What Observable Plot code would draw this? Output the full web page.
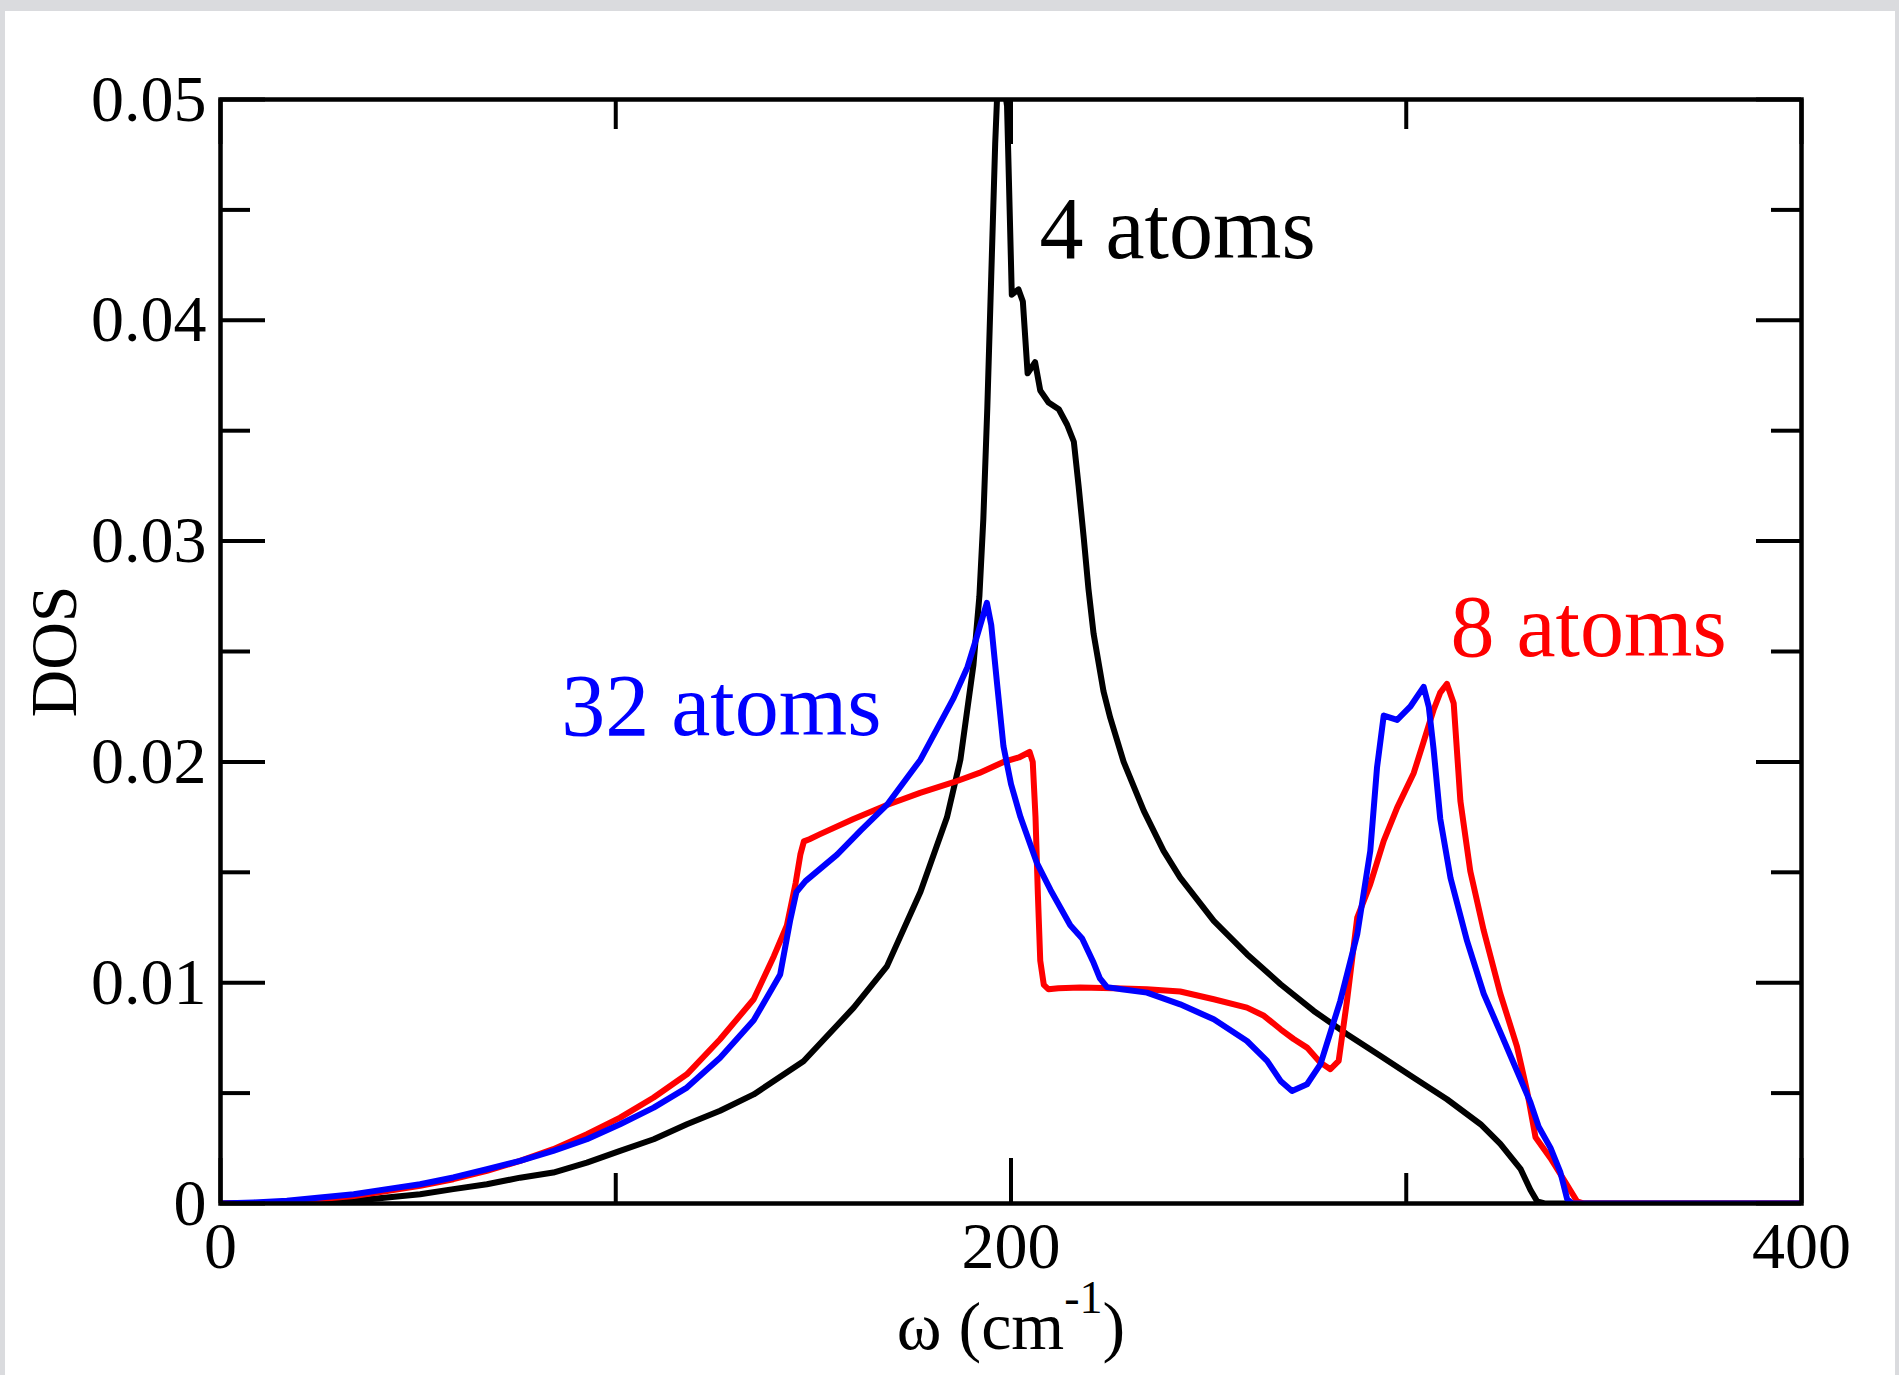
<!DOCTYPE html>
<html>
<head>
<meta charset="utf-8">
<script src="https://cdn.jsdelivr.net/npm/d3@7"></script>
<script src="https://cdn.jsdelivr.net/npm/@observablehq/plot@0.6"></script>
<style>
  html, body { margin: 0; padding: 0; width: 1899px; height: 1375px; overflow: hidden; background: #dadbde; }
  #panel { position: absolute; left: 5px; top: 11px; width: 1890px; height: 1364px; background: #ffffff; }
  #panel svg { display: block; }
</style>
</head>
<body>
<div id="panel"></div>
<script>
// ---------------- data ----------------
// 4 atoms (black)
const omega4 = [0, 25.2, 33.7, 42.1, 50.5, 58.9, 67.4, 75.8, 84.2, 92.7,
  101.1, 109.6, 118, 126.4, 134.9, 147.5, 160.2, 168.6, 177.1, 183.8,
  187.2, 190.5, 192, 193, 194, 195, 196, 196.8, 197.6, 199,
  200.2, 201.9, 203, 204.2, 206.1, 207.4, 209.5, 212.1, 214.2, 215.9,
  217.1, 218.4, 219.6, 220.9, 223.4, 225.1, 228.5, 233.6, 238.6, 242.8,
  251.3, 259.7, 268.2, 276.6, 285, 293.5, 301.9, 310.3, 318.8, 323.8,
  326.5, 328.9, 331.4, 333.1, 335, 400];
const dos4 = [0, 0.00005, 0.00012, 0.00027, 0.00042, 0.00065, 0.00087, 0.00117, 0.0014, 0.00185,
  0.00238, 0.00291, 0.00359, 0.0042, 0.00494, 0.00644, 0.00887, 0.01074, 0.01412, 0.01749,
  0.0201, 0.0244, 0.0275, 0.031, 0.036, 0.042, 0.048, 0.0515, 0.0515, 0.0497,
  0.04116, 0.0414, 0.04085, 0.0376, 0.0381, 0.03682, 0.03628, 0.03597, 0.03527, 0.0345,
  0.0325, 0.03015, 0.02783, 0.0258, 0.0232, 0.0220, 0.0200, 0.01778, 0.01597, 0.01476,
  0.0128, 0.01129, 0.00993, 0.00872, 0.00767, 0.00668, 0.0057, 0.00472, 0.00359, 0.0027,
  0.0021, 0.00157, 0.00062, 0.0001, 0, 0];

// 8 atoms (red)
const omega8 = [0, 8.4, 16.8, 25.2, 33.7, 42.1, 50.5, 58.9, 67.4, 75.8,
  84.2, 92.7, 101.1, 109.6, 118, 126.4, 134.9, 140, 143.3, 145.5,
  146.7, 147.6, 149, 151.7, 160, 168.6, 177, 185.5, 192, 198.1,
  202, 204.7, 205.5, 206.2, 206.8, 207.4, 208.3, 209.5, 212, 217.5,
  226, 234.4, 242.8, 251.3, 259.7, 264, 268.2, 271.5, 274.9, 278.3,
  280.8, 282.9, 285, 287.6, 290.9, 294.3, 297.7, 301.9, 304.4, 306.9,
  308.6, 310.3, 312, 313.7, 316.2, 319.6, 323.8, 328, 330.6, 332.7,
  336.5, 339.8, 343.2, 345, 400];
const dos8 = [0, 0, 0.00005, 0.0002, 0.00034, 0.00057, 0.0008, 0.0011, 0.00148, 0.00193,
  0.00246, 0.00314, 0.00389, 0.0048, 0.00585, 0.00744, 0.00925, 0.0112, 0.0126, 0.0145,
  0.0158, 0.0164, 0.0165, 0.01673, 0.0174, 0.01805, 0.0186, 0.01908, 0.0195, 0.0200,
  0.0202, 0.02045, 0.0200, 0.0175, 0.0140, 0.0110, 0.0099, 0.0097, 0.00975, 0.00978,
  0.00975, 0.0097, 0.0096, 0.00925, 0.00887, 0.0085, 0.00789, 0.00745, 0.00706, 0.00638,
  0.00608, 0.00646, 0.00917, 0.01295, 0.01446, 0.01642, 0.01793, 0.0195, 0.02092, 0.02235,
  0.02314, 0.02353, 0.02266, 0.01823, 0.01505, 0.01236, 0.0095, 0.00712, 0.00506, 0.003,
  0.00205, 0.0011, 0.0001, 0, 0];

// 32 atoms (blue)
const omega32 = [0, 8.4, 16.8, 25.2, 33.7, 42.1, 50.5, 58.9, 67.4, 75.8,
  84.2, 92.7, 101.1, 109.6, 118, 126.4, 134.9, 141.6, 144.1, 145.7,
  148, 156, 162, 168.6, 177.1, 185.5, 189, 191.4, 193.9, 195,
  196.5, 198.1, 200, 202.4, 206.6, 210, 215, 218, 220.9, 222.5,
  224.3, 228, 234.4, 242.8, 251.3, 259.7, 264.8, 268.2, 271.1, 274.9,
  278.3, 283.3, 287.6, 290.9, 292.6, 294.3, 297.7, 301, 304.4, 305.7,
  306.9, 308.6, 311.2, 315.4, 319.6, 323.8, 328, 331.4, 333.5, 336.5,
  339, 340.7, 342, 400];
const dos32 = [0, 0.00005, 0.00012, 0.00027, 0.00042, 0.00065, 0.00087, 0.00118, 0.00155, 0.00193,
  0.00238, 0.00291, 0.00359, 0.00434, 0.00525, 0.0066, 0.0083, 0.01037, 0.0128, 0.0141,
  0.0146, 0.0158, 0.0169, 0.01805, 0.0201, 0.0229, 0.0243, 0.0257, 0.0272, 0.0262,
  0.0235, 0.0207, 0.0190, 0.0175, 0.0154, 0.0142, 0.0126, 0.0120, 0.0109, 0.0102,
  0.0098, 0.0097, 0.00955, 0.00902, 0.00834, 0.00736, 0.00646, 0.00555, 0.0051, 0.0054,
  0.00631, 0.00917, 0.01219, 0.01597, 0.01974, 0.0221, 0.0219, 0.0225, 0.0234, 0.0225,
  0.0206, 0.01743, 0.01474, 0.01188, 0.0095, 0.00776, 0.00601, 0.00459, 0.00348, 0.00252,
  0.00141, 0.0002, 0, 0];

// ticks and labels
const xMajorTicks = [0, 200, 400];
const xMinorTicks = [100, 300];
const xTickLabels = ["0", "200", "400"];
const yMajorTicks = [0, 0.01, 0.02, 0.03, 0.04, 0.05];
const yMinorTicks = [0.005, 0.015, 0.025, 0.035, 0.045];
const yTickLabels = ["0", "0.01", "0.02", "0.03", "0.04", "0.05"];

const seriesNames = ["4 atoms", "8 atoms", "32 atoms"];
const xTitleMain = "ω (cm";
const xTitleSup = "-1";
const xTitleEnd = ")";
const yTitle = "DOS";

// ---------------- layout / style ----------------
const W = 1890, H = 1364, ML = 215, MR = 94, MT = 88, MB = 172;
const xDomain = [0, 400], yDomain = [0, 0.05];
const pxX = (xDomain[1] - xDomain[0]) / (W - ML - MR);
const pxY = (yDomain[1] - yDomain[0]) / (H - MT - MB);
const majorLen = 45, minorLen = 30;
const font = "'Liberation Serif', 'Times New Roman', Times, serif";
const colors = ["#000000", "#ff0000", "#0000ff"];
// label anchors (data coordinates)
const labelAt = [{omega: 207.2, dos: 0.0428}, {omega: 311.2, dos: 0.0248}, {omega: 86.2, dos: 0.0212}];

const rows = (xs, ys) => xs.map((x, i) => ({omega: x, dos: ys[i]}));
const annotations = seriesNames.map((t, i) => ({text: t, color: colors[i], ...labelAt[i]}));
const tk = {stroke: "black", strokeWidth: 4};

const lineOpts = (c) => ({x: "omega", y: "dos", stroke: c, strokeWidth: 6, clip: true, strokeLinejoin: "round"});

const plot = Plot.plot({
  width: W, height: H,
  marginLeft: ML, marginRight: MR, marginTop: MT, marginBottom: MB,
  x: {domain: xDomain, label: null},
  y: {domain: yDomain, label: null},
  color: {type: "identity"},
  style: {fontFamily: font, background: "white", color: "black", overflow: "visible"},
  marks: [
    Plot.line(rows(omega4, dos4), lineOpts(colors[0])),
    Plot.line(rows(omega8, dos8), lineOpts(colors[1])),
    Plot.line(rows(omega32, dos32), lineOpts(colors[2])),
    // inward ticks on all four sides
    Plot.ruleX(xMajorTicks, {x: d => d, y1: yDomain[0], y2: yDomain[0] + majorLen * pxY, ...tk}),
    Plot.ruleX(xMajorTicks, {x: d => d, y1: yDomain[1], y2: yDomain[1] - majorLen * pxY, ...tk}),
    Plot.ruleX(xMinorTicks, {x: d => d, y1: yDomain[0], y2: yDomain[0] + minorLen * pxY, ...tk}),
    Plot.ruleX(xMinorTicks, {x: d => d, y1: yDomain[1], y2: yDomain[1] - minorLen * pxY, ...tk}),
    Plot.ruleY(yMajorTicks, {y: d => d, x1: xDomain[0], x2: xDomain[0] + majorLen * pxX, ...tk}),
    Plot.ruleY(yMajorTicks, {y: d => d, x1: xDomain[1], x2: xDomain[1] - majorLen * pxX, ...tk}),
    Plot.ruleY(yMinorTicks, {y: d => d, x1: xDomain[0], x2: xDomain[0] + minorLen * pxX, ...tk}),
    Plot.ruleY(yMinorTicks, {y: d => d, x1: xDomain[1], x2: xDomain[1] - minorLen * pxX, ...tk}),
    Plot.frame({stroke: "black", strokeWidth: 4.5}),
    Plot.axisX(xMajorTicks, {anchor: "bottom", tickSize: 0, tickPadding: 18, fontSize: 66,
      tickFormat: d => xTickLabels[xMajorTicks.indexOf(d)], label: null}),
    Plot.axisY(yMajorTicks, {anchor: "left", tickSize: 0, tickPadding: 14, fontSize: 66,
      tickFormat: d => yTickLabels[yMajorTicks.indexOf(d)], label: null}),
    Plot.text(annotations, {x: "omega", y: "dos", text: "text", fill: "color", fontSize: 88,
      textAnchor: "start", lineAnchor: "bottom"}),
    Plot.text([yTitle], {text: d => d, frameAnchor: "left", dx: -145, rotate: -90, fontSize: 66,
      textAnchor: "middle", lineAnchor: "bottom", fill: "black"}),
    Plot.text([xTitleMain + xTitleSup + xTitleEnd], {text: d => d, frameAnchor: "bottom", dy: 145,
      fontSize: 68, textAnchor: "middle", lineAnchor: "bottom", fill: "black"})
  ]
});

// superscript for the x-axis title
const full = xTitleMain + xTitleSup + xTitleEnd;
plot.querySelectorAll("text").forEach(el => {
  if (el.textContent === full) {
    const ns = "http://www.w3.org/2000/svg";
    while (el.firstChild) el.removeChild(el.firstChild);
    const t1 = document.createElementNS(ns, "tspan"); t1.textContent = xTitleMain;
    const t2 = document.createElementNS(ns, "tspan"); t2.textContent = xTitleSup;
    t2.setAttribute("font-size", "46"); t2.setAttribute("dy", "-36");
    const t3 = document.createElementNS(ns, "tspan"); t3.textContent = xTitleEnd;
    t3.setAttribute("dy", "36");
    el.appendChild(t1); el.appendChild(t2); el.appendChild(t3);
  }
});

document.getElementById("panel").appendChild(plot);
</script>
</body>
</html>
